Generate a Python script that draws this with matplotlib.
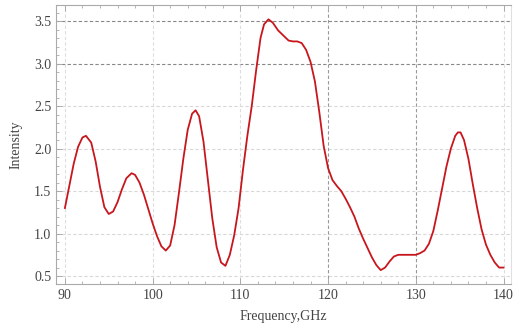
import matplotlib
matplotlib.use('Agg')
import matplotlib.pyplot as plt
from matplotlib.ticker import MultipleLocator

freq = [90, 90.5, 91, 91.5, 92, 92.4, 93, 93.5, 94, 94.5, 95, 95.5, 96, 96.5,
        97, 97.6, 98, 98.5, 99, 99.5, 100, 100.5, 101, 101.5, 102, 102.5, 103,
        103.5, 104, 104.5, 104.9, 105.3, 105.8, 106.3, 106.8, 107.3, 107.8,
        108.3, 108.8, 109.3, 109.8, 110.3, 110.8, 111.3, 111.8, 112.3, 112.7,
        113.2, 113.7, 114.3, 115, 115.5, 116, 116.5, 117, 117.5, 118, 118.5,
        119, 119.5, 120, 120.5, 121, 121.5, 122, 122.5, 123, 123.5, 124, 124.5,
        125, 125.5, 126, 126.5, 127, 127.5, 128, 128.5, 129, 129.5, 130, 130.5,
        131, 131.5, 132, 132.5, 133, 133.5, 134, 134.5, 134.8, 135.1, 135.5,
        136, 136.5, 137, 137.5, 138, 138.5, 139, 139.5, 140]
intensity = [1.30, 1.56, 1.82, 2.02, 2.13, 2.15, 2.07, 1.85, 1.55, 1.31, 1.23,
             1.26, 1.37, 1.52, 1.65, 1.71, 1.69, 1.60, 1.46, 1.29, 1.12, 0.97,
             0.85, 0.80, 0.86, 1.10, 1.48, 1.88, 2.22, 2.41, 2.45, 2.38, 2.08,
             1.63, 1.18, 0.84, 0.66, 0.62, 0.75, 0.98, 1.30, 1.75, 2.15, 2.50,
             2.92, 3.30, 3.46, 3.52, 3.48, 3.39, 3.32, 3.27, 3.26, 3.26, 3.24,
             3.16, 3.02, 2.79, 2.43, 2.03, 1.77, 1.63, 1.56, 1.50, 1.41, 1.31,
             1.20, 1.06, 0.94, 0.83, 0.72, 0.63, 0.57, 0.60, 0.67, 0.73, 0.75,
             0.75, 0.75, 0.75, 0.75, 0.77, 0.80, 0.88, 1.03, 1.27, 1.53, 1.79,
             2.00, 2.15, 2.19, 2.19, 2.10, 1.88, 1.58, 1.30, 1.05, 0.87, 0.75,
             0.66, 0.60, 0.60]

xticks = [90, 100, 110, 120, 130, 140]
yticks = [0.5, 1.0, 1.5, 2.0, 2.5, 3.0, 3.5]
dark_y = [3.0, 3.5]
dark_x = [120, 130]

plt.rcParams['font.family'] = ['Liberation Serif', 'DejaVu Serif']

fig = plt.figure(figsize=(5.15, 3.24), dpi=100)
ax = fig.add_axes([0.109, 0.123, 0.884, 0.862])

for v in yticks:
    c = '#888888' if v in dark_y else '#d8d8d8'
    ax.axhline(v, color=c, lw=0.8, ls=(0, (3, 2)), zorder=1)
for v in xticks:
    c = '#999999' if v in dark_x else '#dddddd'
    ax.axvline(v, color=c, lw=0.8, ls=(0, (3, 2)), zorder=1)

ax.plot(freq, intensity, color='#c8161d', lw=1.3, zorder=3)

ax.set_xlim(89, 140.9)
ax.set_ylim(0.405, 3.69)
ax.set_xticks(xticks)
ax.set_yticks(yticks)
ax.set_yticklabels(['0.5', '1.0', '1.5', '2.0', '2.5', '3.0', '3.5'])
ax.xaxis.set_minor_locator(MultipleLocator(2))
ax.yaxis.set_minor_locator(MultipleLocator(0.1))
ax.tick_params(which='both', direction='in', colors='#aaaaaa',
               labelcolor='#444444', labelsize=10, top=True)
ax.tick_params(which='major', length=4, width=0.7)
ax.tick_params(which='minor', length=2, width=0.6)

for s in ax.spines.values():
    s.set_color('#aaaaaa')
    s.set_linewidth(0.8)
ax.spines['right'].set_color('#e0e0e0')

ax.set_xlabel('Frequency,GHz', fontsize=10, color='#444444', labelpad=6)
ax.set_ylabel('Intensity', fontsize=10, color='#444444', labelpad=8)

fig.savefig('out.png', dpi=100)
